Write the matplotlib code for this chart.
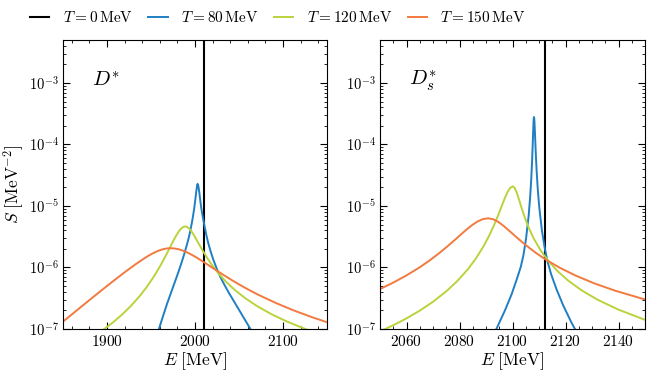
import numpy as np
import matplotlib
matplotlib.use("Agg")
import matplotlib.pyplot as plt
from matplotlib.ticker import MultipleLocator, LogLocator, NullFormatter

plt.rcParams['font.family'] = 'serif'
plt.rcParams['font.serif'] = ['cmr10']
plt.rcParams['mathtext.fontset'] = 'cm'
plt.rcParams['axes.unicode_minus'] = False
plt.rcParams['axes.formatter.use_mathtext'] = True

# vacuum masses (T = 0)
m_dstar = 2010.0
m_dsstar = 2112.2

# D* panel: E in MeV, log10 of S
dstar_E_80 = [1957, 1959, 1963, 1968, 1973, 1977, 1981, 1985, 1988, 1991, 1993, 1995,
              1997, 1998, 1999, 2000, 2001, 2001.5, 2002, 2002.5, 2003, 2003.5, 2004,
              2004.5, 2005, 2006, 2007, 2008, 2009, 2011, 2013, 2015, 2018, 2021, 2025,
              2029, 2033, 2038, 2043, 2048, 2053, 2058, 2063, 2067]
dstar_S_80 = [-7.09, -7.00, -6.82, -6.60, -6.40, -6.24, -6.08, -5.91, -5.77, -5.62, -5.51, -5.38,
              -5.23, -5.14, -5.05, -4.94, -4.82, -4.76, -4.705, -4.66, -4.64, -4.66, -4.69,
              -4.74, -4.79, -4.91, -5.02, -5.11, -5.19, -5.34, -5.48, -5.60, -5.75, -5.88, -6.03,
              -6.16, -6.27, -6.40, -6.52, -6.64, -6.76, -6.88, -7.00, -7.10]
dstar_E_120 = [1893, 1897, 1907, 1917, 1927, 1937, 1945, 1953, 1959, 1964, 1969, 1973,
               1976, 1979, 1981, 1983, 1985, 1987, 1989, 1991, 1993, 1995, 1997, 1999,
               2002, 2005, 2009, 2014, 2019, 2027, 2035, 2045, 2057, 2071, 2087, 2105,
               2125.4, 2129]
dstar_S_120 = [-7.041, -7.000, -6.890, -6.767, -6.627, -6.467, -6.320, -6.153, -6.011, -5.883,
               -5.746, -5.633, -5.549, -5.472, -5.426, -5.388, -5.358, -5.339, -5.333, -5.340,
               -5.361, -5.393, -5.433, -5.479, -5.555, -5.632, -5.732, -5.848, -5.954, -6.102,
               -6.228, -6.362, -6.498, -6.632, -6.760, -6.882, -7.000, -7.019]
dstar_E_150 = [1850, 1862, 1872, 1882, 1892, 1902, 1912, 1922, 1932, 1942, 1947, 1952,
               1957, 1962, 1967, 1972, 1977, 1982, 1987, 1992, 1997, 2002, 2012, 2022,
               2032, 2042, 2052, 2062, 2072, 2092, 2112, 2132, 2150]
dstar_S_150 = [-6.880, -6.740, -6.623, -6.507, -6.392, -6.278, -6.166, -6.057, -5.952, -5.855,
               -5.810, -5.770, -5.736, -5.709, -5.692, -5.686, -5.691, -5.706, -5.730, -5.761,
               -5.799, -5.840, -5.931, -6.025, -6.118, -6.207, -6.291, -6.370, -6.444, -6.578,
               -6.697, -6.803, -6.890]

# D_s* panel
dsstar_E_80 = [2093.1, 2094.1, 2097.1, 2099.6, 2101.6, 2103.1, 2104.1, 2105.1, 2106.1, 2106.7,
               2107.1, 2107.4, 2107.6, 2107.75, 2107.9, 2108.0, 2108.1, 2108.2, 2108.3, 2108.45,
               2108.6, 2108.8, 2109.1, 2109.5, 2110.1, 2111.1, 2112.1, 2113.1, 2114.6, 2116.6,
               2119.1, 2122.1, 2123.1, 2124.1]
dsstar_S_80 = [-7.063, -6.983, -6.703, -6.443, -6.193, -5.993, -5.806, -5.535, -5.157, -4.833,
               -4.542, -4.260, -4.033, -3.846, -3.670, -3.585, -3.553, -3.577, -3.643, -3.787,
               -3.949, -4.156, -4.422, -4.704, -5.022, -5.397, -5.668, -5.882, -6.113, -6.353,
               -6.613, -6.883, -6.963, -7.043]
dsstar_E_120 = [2050.1, 2052, 2056.1, 2060.1, 2065.1, 2070.1, 2075.1, 2079.1, 2083.1, 2086.1,
                2089.1, 2091.1, 2093.1, 2094.6, 2096.1, 2097.1, 2098.1, 2099.1, 2100.1, 2100.8,
                2101.5, 2102.3, 2103.3, 2104.6, 2106.1, 2108.1, 2110.6, 2113.6, 2117.1, 2121.1,
                2126.1, 2132.1, 2140.1, 2150]
dsstar_S_120 = [-7.033, -7.000, -6.915, -6.825, -6.699, -6.554, -6.384, -6.223, -6.032, -5.859,
                -5.653, -5.491, -5.305, -5.149, -4.982, -4.872, -4.775, -4.706, -4.680, -4.705,
                -4.771, -4.874, -5.013, -5.182, -5.351, -5.536, -5.721, -5.898, -6.063, -6.216,
                -6.372, -6.524, -6.687, -6.851]
dsstar_E_150 = [2050, 2054.8, 2059.8, 2064.8, 2068.8, 2072.8, 2075.8, 2078.8, 2080.8, 2082.8,
                2084.8, 2086.8, 2088.8, 2090.8, 2092.8, 2094.8, 2096.8, 2098.8, 2101.8, 2104.8,
                2108.8, 2112.8, 2117.8, 2123.8, 2130.8, 2138.8, 2150]
dsstar_S_150 = [-6.350, -6.250, -6.133, -6.002, -5.883, -5.751, -5.643, -5.530, -5.453, -5.378,
                -5.309, -5.252, -5.214, -5.200, -5.217, -5.263, -5.329, -5.404, -5.519, -5.629,
                -5.762, -5.878, -6.003, -6.131, -6.257, -6.378, -6.520]

labels = [r'$T=0\,\mathrm{MeV}$', r'$T=80\,\mathrm{MeV}$',
          r'$T=120\,\mathrm{MeV}$', r'$T=150\,\mathrm{MeV}$']
colors = ['black', '#1f7fc4', '#bad33b', '#f27a3f']

fig = plt.figure(figsize=(6.65, 3.76), dpi=100)
ax1 = fig.add_axes([63/665, 47/376, 264/665, 289/376])
ax2 = fig.add_axes([380/665, 47/376, 265/665, 289/376])

panels = [
    (ax1, m_dstar, [(dstar_E_80, dstar_S_80), (dstar_E_120, dstar_S_120), (dstar_E_150, dstar_S_150)],
     (1850, 2150), 100, 20, r'$D^{*}$'),
    (ax2, m_dsstar, [(dsstar_E_80, dsstar_S_80), (dsstar_E_120, dsstar_S_120), (dsstar_E_150, dsstar_S_150)],
     (2050, 2150), 20, 5, r'$D_s^{*}$'),
]

for ax, mass, curves, xlim, major, minor, name in panels:
    ax.axvline(mass, color=colors[0], lw=1.5, label=labels[0])
    for (E, S), c, lab in zip(curves, colors[1:], labels[1:]):
        ax.plot(E, 10**np.array(S), color=c, lw=1.4, label=lab)
    ax.set_yscale('log')
    ax.set_xlim(*xlim)
    ax.set_ylim(1e-7, 5e-3)
    ax.xaxis.set_major_locator(MultipleLocator(major))
    ax.xaxis.set_minor_locator(MultipleLocator(minor))
    ax.yaxis.set_major_locator(LogLocator(base=10, numticks=10))
    ax.yaxis.set_minor_locator(LogLocator(base=10, subs=np.arange(2, 10), numticks=20))
    ax.yaxis.set_minor_formatter(NullFormatter())
    ax.tick_params(which='both', direction='in', top=True, right=True)
    ax.tick_params(axis='x', labelsize=11)
    ax.tick_params(axis='y', labelsize=10.5, pad=3)
    ax.tick_params(which='major', length=5)
    ax.tick_params(which='minor', length=2.5)
    ax.set_xlabel(r'$E\ [\mathrm{MeV}]$', fontsize=12.5, labelpad=1)
    ax.text(0.11, 0.86, name, transform=ax.transAxes, fontsize=15, va='center')

ax1.set_ylabel(r'$S\ [\mathrm{MeV}^{-2}]$', fontsize=12.5)
ax1.yaxis.set_label_coords(-0.14, 0.5)

handles, labs = ax1.get_legend_handles_labels()
fig.legend(handles, labs, loc='upper center', bbox_to_anchor=(0.418, 1.01), ncol=4,
           frameon=False, fontsize=11, handlelength=1.25, handletextpad=0.9, columnspacing=1.0)

fig.savefig('out.png', dpi=100)
